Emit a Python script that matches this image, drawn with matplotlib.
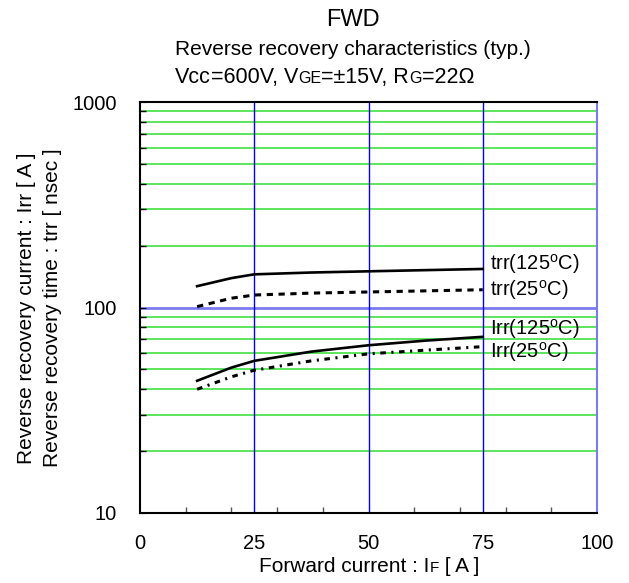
import matplotlib
matplotlib.use("Agg")
import matplotlib.pyplot as plt
from matplotlib.ticker import FixedLocator, NullFormatter

plt.rcParams['font.family'] = ['Liberation Sans', 'DejaVu Sans']
plt.rcParams['mathtext.fontset'] = 'custom'
plt.rcParams['mathtext.rm'] = 'Liberation Sans'
plt.rcParams['lines.scale_dashes'] = False

# ---- data ----
x_trr125 = [12.5, 20, 25, 37.5, 50, 62.5, 75]
trr125 = [127, 139, 145, 148, 150, 152, 154]
x_trr25 = [12.5, 20, 25, 37.5, 50, 62.5, 75]
trr25 = [101, 111, 115, 117.5, 119, 120.5, 122]
x_irr125 = [12.5, 20, 25, 37.5, 50, 62.5, 75]
irr125 = [44, 51, 55, 61, 65.5, 69, 72]
x_irr25 = [12.5, 20, 25, 37.5, 50, 62.5, 75]
irr25 = [40, 46, 49.5, 55, 59.5, 62, 64.5]

xticks = [0, 25, 50, 75, 100]
xtick_labels = ['0', '25', '50', '75', '100']
yticks = [10, 100, 1000]
ytick_labels = ['10', '100', '1000']

W, H = 629, 583
fig = plt.figure(figsize=(W / 100, H / 100), dpi=100)
L, R, T, B = 140, 597, 102, 513
ax = fig.add_axes([L / W, 1 - B / H, (R - L) / W, (B - T) / H])
ax.set_xlim(0, 100)
ax.set_yscale('log')
ax.set_ylim(10, 1000)

green = '#3fe03f'
for dec in (10, 100):
    for m in range(2, 10):
        ax.axhline(dec * m, color=green, lw=1.2, zorder=1)
ax.axhline(100, color='#7b7bf0', lw=2.0, zorder=1.5)
for xv in (25, 50, 75):
    ax.axvline(xv, color='#0000ff', lw=1.0, zorder=1.5)

ax.plot(x_trr125, trr125, color='black', lw=1.9, zorder=3)
ax.plot(x_trr25, trr25, color='black', lw=2.2, ls=(0, (4.5, 4)), zorder=3)
ax.plot(x_irr125, irr125, color='black', lw=1.9, zorder=3)
ax.plot(x_irr25, irr25, color='black', lw=2.2, ls=(0, (4, 4, 1.5, 4)), zorder=3)

lab_kw = dict(fontsize=14.5, va='center', ha='left', zorder=4)
ax.text(76.6, 163, r'trr(125$^{\rm o}$C)', **lab_kw)
ax.text(76.6, 122, r'trr(25$^{\rm o}$C)', **lab_kw)
ax.text(76.6, 79, r'Irr(125$^{\rm o}$C)', **lab_kw)
ax.text(76.6, 60.5, r'Irr(25$^{\rm o}$C)', **lab_kw)

for s in ('left', 'bottom', 'top'):
    ax.spines[s].set_color('black')
    ax.spines[s].set_linewidth(1.5)
ax.spines['right'].set_color('#7b7bf0')
ax.spines['right'].set_linewidth(1.5)

ax.xaxis.set_major_locator(FixedLocator(xticks))
ax.set_xticklabels(xtick_labels)
ax.xaxis.set_minor_locator(FixedLocator([10, 20, 30, 40, 60, 70, 80, 90]))
ax.yaxis.set_major_locator(FixedLocator(yticks))
ax.set_yticklabels(ytick_labels)
ax.yaxis.set_minor_locator(FixedLocator([d * m for d in (10, 100) for m in range(2, 10)]))
ax.yaxis.set_minor_formatter(NullFormatter())
ax.tick_params(axis='x', which='major', direction='in', length=0, pad=15, labelsize=14.5)
ax.tick_params(axis='x', which='minor', direction='in', length=4, width=1, color='#555555')
ax.tick_params(axis='y', which='major', direction='in', length=4, pad=16.5, labelsize=14.5)
ax.tick_params(axis='y', which='minor', direction='in', length=4, width=1)
ax.tick_params(top=False, right=False, which='both')

fig.canvas.draw()
r = fig.canvas.get_renderer()


def measure(pieces):
    ws = []
    for txt, fs in pieces:
        t = fig.text(0, 0, txt, fontsize=fs)
        ws.append(t.get_window_extent(renderer=r).width)
        t.remove()
    return ws


def chain(pieces, x_left, baseline_px):
    ws = measure(pieces)
    x0 = x_left
    for (txt, fs), w in zip(pieces, ws):
        fig.text(x0 / W, (H - baseline_px) / H, txt, fontsize=fs, ha='left', va='baseline')
        x0 += w


fig.text(353 / W, (H - 26) / H, 'FWD', ha='center', va='baseline', fontsize=17)
fig.text(353 / W, (H - 55) / H, 'Reverse recovery characteristics (typ.)', ha='center',
         va='baseline', fontsize=15)

sub_pieces = [('Vcc', 15.5), ('=600V, V', 15.5), ('GE', 11.5), ('=\u00b115V, R', 15.5), ('G', 11.5), ('=22\u03a9', 15.5)]
chain(sub_pieces, 175, 83)

xl_pieces = [('Forward current : I', 15), ('F', 11), (' [ A ]', 15)]
ws = measure(xl_pieces)
chain(xl_pieces, 369 - sum(ws) / 2, 572)

fig.text(27 / W, 1 - 308 / H, 'Reverse recovery current : Irr [ A ]', rotation=90,
         ha='center', va='center', fontsize=15)
fig.text(53 / W, 1 - 308 / H, 'Reverse recovery time : trr [ nsec ]', rotation=90,
         ha='center', va='center', fontsize=15)

fig.savefig('out.png', dpi=100)
